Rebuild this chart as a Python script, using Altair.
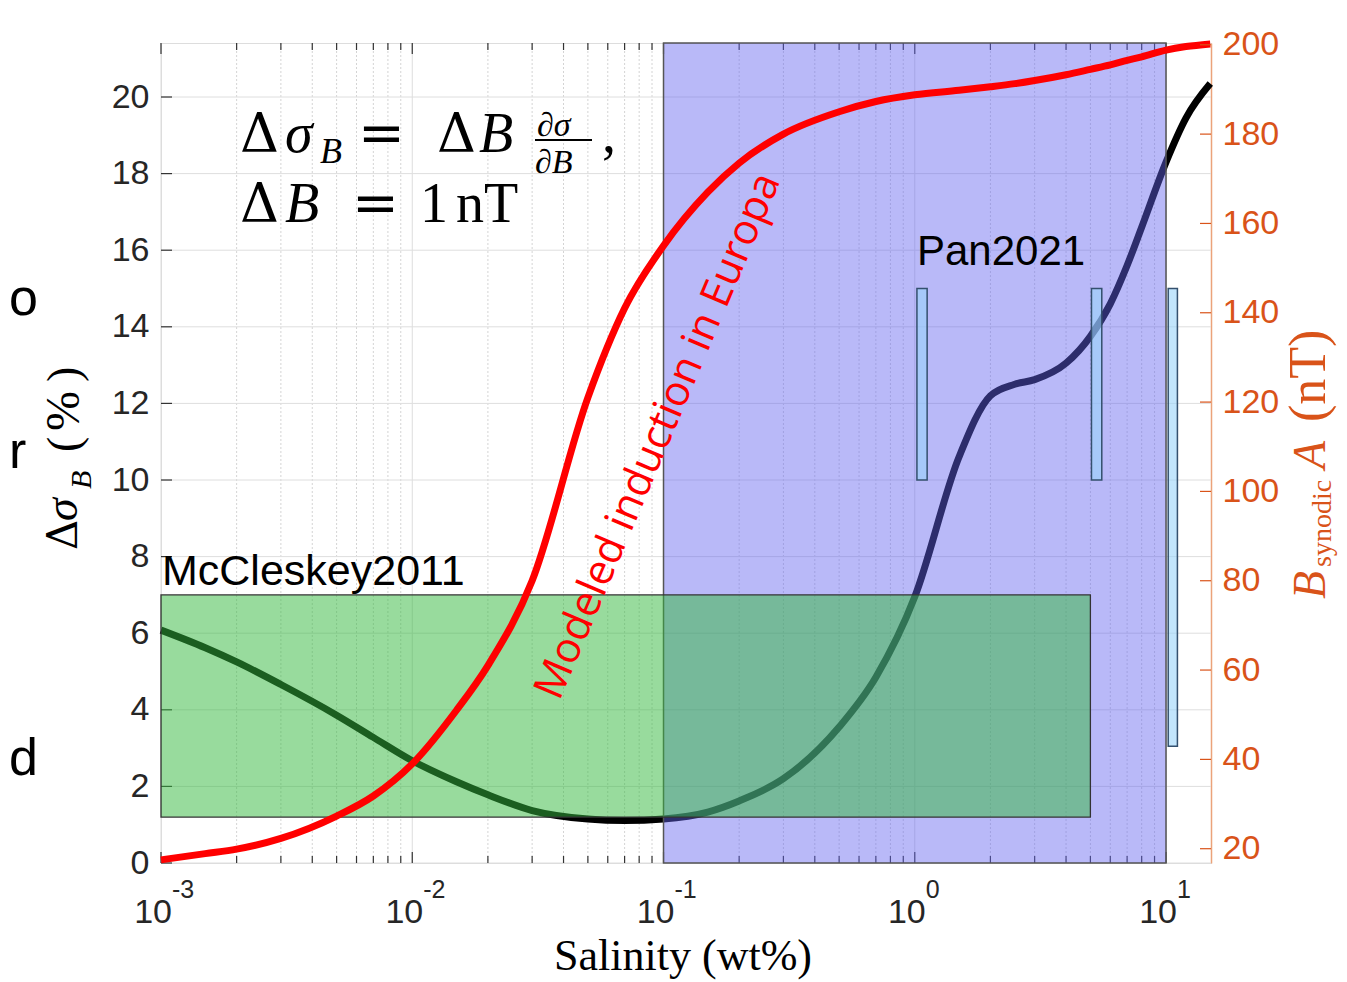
import altair as alt
import pandas as pd

# ---------------- data ----------------
salinity = [0.001, 0.0015, 0.002, 0.003, 0.005, 0.007, 0.01, 0.015, 0.02, 0.03, 0.05, 0.07,
            0.1, 0.15, 0.2, 0.3, 0.5, 0.7, 1.0, 1.5, 2.0, 2.5, 3.0, 4.0, 5.0, 6.0, 7.0, 8.0,
            10.0, 12.0, 15.0]
delta_sigma = [6.08, 5.62, 5.25, 4.66, 3.86, 3.28, 2.67, 2.12, 1.78, 1.37, 1.15, 1.11,
               1.15, 1.33, 1.62, 2.20, 3.55, 4.85, 6.95, 10.6, 12.2, 12.5, 12.62, 13.05, 13.75,
               14.6, 15.6, 16.6, 18.3, 19.45, 20.35]
b_synodic = [17.5, 18.9, 19.9, 22.3, 27.3, 31.8, 39.0, 51.0, 61.0, 80.0, 121.0, 141.0,
             155.0, 167.0, 173.5, 180.0, 185.0, 187.3, 188.8, 189.8, 190.6, 191.3, 192.0, 193.3,
             194.5, 195.5, 196.5, 197.3, 198.8, 199.6, 200.2]

green_box = {"x0": [0.001], "x1": [5.0], "y0": [1.2], "y1": [7.0]}
blue_band = {"x0": [0.1], "x1": [10.0]}
pan_x0 = [1.02, 5.05, 10.2]
pan_x1 = [1.12, 5.55, 11.1]
pan_y0 = [10.0, 10.0, 3.05]
pan_y1 = [15.0, 15.0, 15.0]

left_ticks = [0, 2, 4, 6, 8, 10, 12, 14, 16, 18, 20]
right_ticks = [20, 40, 60, 80, 100, 120, 140, 160, 180, 200]
decades = [0.001, 0.01, 0.1, 1.0, 10.0]
decade_exp = ["-3", "-2", "-1", "0", "1"]
minor_x = [k * 10.0 ** d for d in range(-3, 1) for k in range(2, 10)]

W, H = 1050, 820
XDOM = [0.001, 15.1]
LDOM = [0, 21.41]
RDOM = [16.8, 200.4]

xs = alt.Scale(type="log", domain=XDOM, nice=False)
ysL = alt.Scale(domain=LDOM, nice=False, zero=False)
ysR = alt.Scale(domain=RDOM, nice=False, zero=False)

ORANGE = "#d95319"
AX_L = alt.Axis(values=left_ticks, grid=False, ticks=False, domain=False, title=None,
                labelFontSize=34, labelFont="Liberation Sans", labelColor="#262626",
                labelPadding=12)
AX_R = alt.Axis(orient="right", values=right_ticks, grid=False, ticks=False, domain=True,
                domainColor="#eba37a", domainWidth=1.5, title=None,
                labelFontSize=34, labelFont="Liberation Sans", labelColor=ORANGE,
                labelPadding=11)

curve = pd.DataFrame({"s": salinity, "d": delta_sigma, "b": b_synodic})
green_df = pd.DataFrame(green_box)
blue_df = pd.DataFrame(blue_band)
pan_df = pd.DataFrame({"x0": pan_x0, "x1": pan_x1, "y0": pan_y0, "y1": pan_y1})
dec_df = pd.DataFrame({"v": decades, "e": decade_exp})
minor_df = pd.DataFrame({"v": minor_x})
lt_df = pd.DataFrame({"v": left_ticks})
rt_df = pd.DataFrame({"v": right_ticks})
dummy = pd.DataFrame({"k": [0]})


def XL(f):
    return alt.X(f, type="quantitative", scale=xs, axis=None)


def YL(f):
    return alt.Y(f, type="quantitative", scale=ysL, axis=AX_L)


def YR(f):
    return alt.Y(f, type="quantitative", scale=ysR, axis=AX_R)


def txt(t, x, y, size, font="Liberation Serif", style="normal", color="black",
        angle=0, align="left", baseline="alphabetic"):
    return alt.Chart(dummy).mark_text(
        text=t, fontSize=size, font=font, fontStyle=style, color=color,
        angle=angle, align=align, baseline=baseline
    ).encode(x=alt.value(x), y=alt.value(y))


# ---------------- grid & inward ticks ----------------
grid_major = alt.Chart(dec_df).mark_rule(color="#dddddd", strokeWidth=1).encode(
    x=XL("v"), y=alt.value(0), y2=alt.value(H))
grid_minor = alt.Chart(minor_df).mark_rule(color="#d4d4d4", strokeWidth=1, strokeDash=[2, 2]).encode(
    x=XL("v"), y=alt.value(0), y2=alt.value(H))
grid_y = alt.Chart(lt_df).mark_rule(color="#dedede", strokeWidth=1).encode(
    y=YL("v"), x=alt.value(0), x2=alt.value(W))
tick_bot_major = alt.Chart(dec_df).mark_rule(color="#333", strokeWidth=1.2).encode(
    x=XL("v"), y=alt.value(H), y2=alt.value(H - 11))
tick_bot_minor = alt.Chart(minor_df).mark_rule(color="#333", strokeWidth=1.2).encode(
    x=XL("v"), y=alt.value(H), y2=alt.value(H - 7))
tick_top_major = alt.Chart(dec_df).mark_rule(color="#333", strokeWidth=1.2).encode(
    x=XL("v"), y=alt.value(0), y2=alt.value(11))
tick_top_minor = alt.Chart(minor_df).mark_rule(color="#333", strokeWidth=1.2).encode(
    x=XL("v"), y=alt.value(0), y2=alt.value(7))
tick_left = alt.Chart(lt_df).mark_rule(color="#333", strokeWidth=1.2).encode(
    y=YL("v"), x=alt.value(0), x2=alt.value(11))

# ---------------- data marks ----------------
black_line = alt.Chart(curve).mark_line(color="black", strokeWidth=7, interpolate="monotone").encode(
    x=XL("s"), y=YL("d"))
blue_rect = alt.Chart(blue_df).mark_rect(color="#6464f0", fillOpacity=0.45, stroke="#555",
                                          strokeWidth=1.5, strokeOpacity=1).encode(
    x=XL("x0"), x2="x1:Q", y=alt.value(0), y2=alt.value(H))
green_rect = alt.Chart(green_df).mark_rect(color="#35b83f", fillOpacity=0.51, stroke="#333",
                                            strokeWidth=1.3, strokeOpacity=1).encode(
    x=XL("x0"), x2="x1:Q", y=YL("y0"), y2="y1:Q")
pan_rect = alt.Chart(pan_df).mark_rect(color="#9ad4fa", fillOpacity=0.6, stroke="#34506e",
                                        strokeWidth=1.5, strokeOpacity=1).encode(
    x=XL("x0"), x2="x1:Q", y=YL("y0"), y2="y1:Q")

left_group = alt.layer(grid_major, grid_minor, grid_y, tick_bot_major, tick_bot_minor,
                       tick_top_major, tick_top_minor, tick_left,
                       black_line, blue_rect, green_rect, pan_rect)

red_line = alt.Chart(curve).mark_line(color="#ff0000", strokeWidth=7, interpolate="monotone").encode(
    x=XL("s"), y=YR("b"))
tick_right = alt.Chart(rt_df).mark_rule(color=ORANGE, strokeWidth=1.2).encode(
    y=YR("v"), x=alt.value(W), x2=alt.value(W - 11))
right_group = alt.layer(red_line, tick_right)

# x tick labels 10^k
lab10 = alt.Chart(dec_df).mark_text(text="10", fontSize=34, font="Liberation Sans", color="#262626",
                                    align="right", baseline="alphabetic", dx=11).encode(
    x=XL("v"), y=alt.value(H + 60))
labexp = alt.Chart(dec_df).mark_text(fontSize=25, font="Liberation Sans", color="#262626",
                                     align="left", baseline="alphabetic", dx=11).encode(
    x=XL("v"), y=alt.value(H + 35), text="e:N")

annotations = [
    # formula line 1
    txt("Δ", 79, 109, 54, font="DejaVu Serif"), txt("σ", 124, 109, 56, style="italic"),
    txt("B", 159, 120, 36, style="italic"),
    txt("=", 197, 109, 56, font="DejaVu Serif"),
    txt("Δ", 276, 109, 54, font="DejaVu Serif"), txt("B", 318, 109, 56, style="italic"),
    txt("∂σ", 376, 93, 34, style="italic"), txt("∂B", 374, 130, 34, style="italic"),
    txt(",", 441, 109, 56),
    # formula line 2
    txt("Δ", 79, 179, 54, font="DejaVu Serif"), txt("B", 124, 179, 56, style="italic"),
    txt("=", 191, 179, 56, font="DejaVu Serif"), txt("1", 259, 179, 56), txt("nT", 295, 179, 56),
    # labels
    txt("McCleskey2011", 1, 542, 43, font="Liberation Sans"),
    txt("Pan2021", 756, 222, 42, font="Liberation Sans"),
    txt("Modeled induction in Europa", 497, 393, 42, font="Open Sans", color="#ff0000",
        angle=293, align="center", baseline="middle"),
    # left axis title
    txt("Δ", -84, 507, 42, font="DejaVu Serif", angle=270),
    txt("σ", -84, 478, 46, style="italic", angle=270),
    txt("B", -70, 446, 30, style="italic", angle=270),
    txt("(", -82, 409, 46, angle=270),
    txt("%", -82, 388, 48, angle=270),
    txt(")", -82, 339, 46, angle=270),
    # right axis title
    txt("B", 1164, 556, 46, style="italic", color=ORANGE, angle=270),
    txt("synodic", 1170, 524, 28, color=ORANGE, angle=270),
    txt("A", 1164, 426, 46, style="italic", color=ORANGE, angle=270),
    txt("(nT)", 1164, 379, 52, color=ORANGE, angle=270),
    # x axis title
    txt("Salinity (wt%)", 522, H + 107, 44, align="center"),
    # slide letters at the left edge
    txt("o", -152, 272, 52, font="Liberation Sans"),
    txt("r", -152, 425, 52, font="Liberation Sans"),
    txt("d", -152, 732, 52, font="Liberation Sans"),
]
frac_bar = alt.Chart(dummy).mark_rule(color="black", strokeWidth=2).encode(
    x=alt.value(374), x2=alt.value(431), y=alt.value(97))

chart = alt.layer(left_group, right_group, lab10, labexp, frac_bar, *annotations).resolve_scale(
    y="independent"
).properties(
    width=W, height=H,
    autosize=alt.AutoSizeParams(type="none"),
    padding={"left": 153, "top": 35, "right": 128, "bottom": 122},
).configure_view(
    stroke="#444", strokeWidth=1.3
).configure(background="white")

chart.save("out.html", embed_options={"renderer": "svg", "actions": False})
